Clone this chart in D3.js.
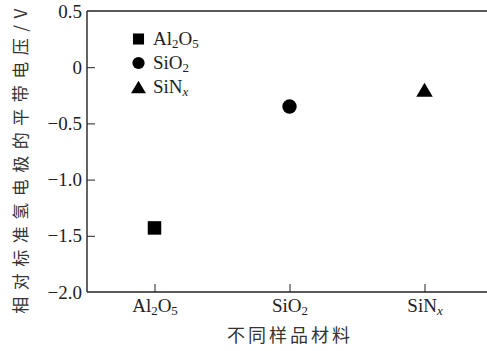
<!DOCTYPE html>
<html>
<head>
<meta charset="utf-8">
<script src="https://cdn.jsdelivr.net/npm/d3@7"></script>
<style>
  body { margin: 0; background: #fff; }
  svg { display: block; }
</style>
</head>
<body>
<svg id="chart" width="487" height="351"></svg>
<script>
// materials (x categories) and flat-band potentials (V vs SHE)
const materials = ["Al2O5", "SiO2", "SiNx"];
const flatBand = [-1.43, -0.35, -0.2];
const markers = ["square", "circle", "triangle"];
const yTicks = [0.5, 0, -0.5, -1.0, -1.5, -2.0];
const yTickLabels = ["0.5", "0", "\u22120.5", "\u22121.0", "\u22121.5", "\u22122.0"];
// chemical labels: [text, kind] pieces
const matLabels = {
  Al2O5: [["Al", ""], ["2", "sub"], ["O", ""], ["5", "sub"]],
  SiO2: [["SiO", ""], ["2", "sub"]],
  SiNx: [["SiN", ""], ["x", "subi"]]
};

const SERIF = "Liberation Serif";
const CJK = "Noto Sans CJK SC";

const svg = d3.select("#chart"),
    margin = {top: 11, right: 0, bottom: 59, left: 87},
    W = +svg.attr("width"), H = +svg.attr("height"),
    plotBottom = H - margin.bottom;

const x = d3.scalePoint().domain(materials).range([margin.left, 492]).padding(0.5);
const y = d3.scaleLinear().domain([-2, 0.5]).range([plotBottom, margin.top]);

// frame: top, left, bottom (open on right)
const frame = svg.append("g").attr("stroke", "#222").attr("stroke-width", 1.4);
frame.append("line").attr("x1", margin.left).attr("x2", W).attr("y1", y(0.5)).attr("y2", y(0.5));
frame.append("line").attr("x1", margin.left).attr("x2", W).attr("y1", y(-2)).attr("y2", y(-2));
frame.append("line").attr("x1", margin.left).attr("x2", margin.left).attr("y1", y(0.5)).attr("y2", y(-2));

// y axis (inward ticks)
const yAxis = d3.axisLeft(y).tickValues(yTicks).tickSize(0).tickPadding(5)
    .tickFormat((d, i) => yTickLabels[i]);
const gy = svg.append("g").attr("transform", "translate(" + margin.left + ",0)")
    .call(yAxis).attr("font-family", SERIF).attr("font-size", 19);
gy.select(".domain").remove();
gy.selectAll(".tick text").attr("fill", "#222");
gy.selectAll(".tick").filter(d => d !== 0.5 && d !== -2)
  .append("line").attr("x1", 0).attr("x2", 8).attr("stroke", "#222").attr("stroke-width", 1);

// x axis (inward ticks)
const xAxis = d3.axisBottom(x).tickSize(0).tickFormat("");
const gx = svg.append("g").attr("transform", "translate(0," + plotBottom + ")")
    .call(xAxis).attr("font-family", SERIF).attr("font-size", 19);
gx.select(".domain").remove();
gx.selectAll(".tick").append("line").attr("y1", 0).attr("y2", -8).attr("stroke", "#222").attr("stroke-width", 1);

function chemText(sel, key, size) {
  matLabels[key].forEach(function (p) {
    const t = sel.append("tspan").text(p[0]);
    if (p[1] === "sub" || p[1] === "subi") {
      t.attr("font-size", size * 0.68).attr("baseline-shift", "-22%");
      if (p[1] === "subi") t.attr("font-style", "italic");
    }
  });
}

gx.selectAll(".tick").each(function (d) {
  const t = d3.select(this).append("text").attr("fill", "#222")
      .attr("text-anchor", "middle").attr("y", 20);
  chemText(t, d, 19);
});

function drawMarker(g, kind, cx, cy, scale) {
  if (kind === "circle") {
    g.append("circle").attr("cx", cx).attr("cy", cy).attr("r", 7.2 * scale).attr("fill", "#000");
  } else if (kind === "square") {
    const s = 13.5 * scale;
    g.append("rect").attr("x", cx - s / 2).attr("y", cy - s / 2).attr("width", s).attr("height", s).attr("fill", "#000");
  } else {
    const h = 14 * scale, w = 16.5 * scale;
    g.append("path").attr("d", "M" + cx + "," + (cy - h / 2) + "L" + (cx + w / 2) + "," + (cy + h / 2) + "L" + (cx - w / 2) + "," + (cy + h / 2) + "Z").attr("fill", "#000");
  }
}

const pts = svg.append("g");
materials.forEach(function (m, i) {
  drawMarker(pts, markers[i], x(m), y(flatBand[i]), 1);
});

// legend
const legend = svg.append("g").attr("font-family", SERIF).attr("font-size", 19);
materials.forEach(function (m, i) {
  const cy = 39 + i * 24;
  drawMarker(legend, markers[i], 138.5, cy, i === 0 ? 0.82 : (i === 1 ? 0.85 : 0.9));
  const t = legend.append("text").attr("fill", "#222").attr("x", 153).attr("y", cy + 6);
  chemText(t, m, 19);
});

// axis titles
svg.append("text").attr("font-family", CJK).attr("fill", "#333")
  .attr("x", 290).attr("y", 342)
  .attr("text-anchor", "middle").attr("font-size", 18).attr("letter-spacing", 3)
  .text("不同样品材料");

svg.append("text").attr("font-family", CJK).attr("fill", "#333")
  .attr("transform", "translate(27,158) rotate(-90)")
  .attr("text-anchor", "middle").attr("font-size", 17).attr("letter-spacing", 6.5)
  .text("相对标准氢电极的平带电压/V");
</script>
</body>
</html>
